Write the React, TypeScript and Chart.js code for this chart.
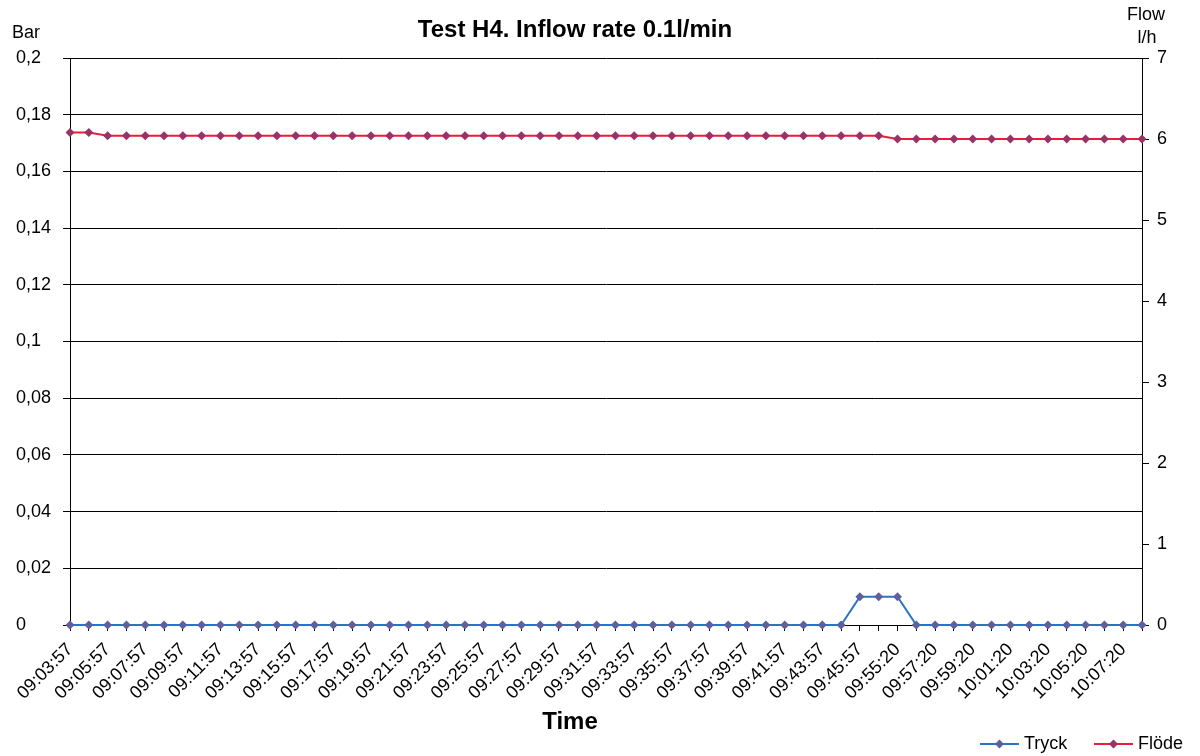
import React, { useEffect, useRef } from "react";
import { Chart, registerables } from "chart.js";

Chart.register(...registerables);

const TIMES: string[] = [
  "09:03:57", "09:04:57", "09:05:57", "09:06:57", "09:07:57", "09:08:57", "09:09:57", "09:10:57",
  "09:11:57", "09:12:57", "09:13:57", "09:14:57", "09:15:57", "09:16:57", "09:17:57", "09:18:57",
  "09:19:57", "09:20:57", "09:21:57", "09:22:57", "09:23:57", "09:24:57", "09:25:57", "09:26:57",
  "09:27:57", "09:28:57", "09:29:57", "09:30:57", "09:31:57", "09:32:57", "09:33:57", "09:34:57",
  "09:35:57", "09:36:57", "09:37:57", "09:38:57", "09:39:57", "09:40:57", "09:41:57", "09:42:57",
  "09:43:57", "09:44:57", "09:45:57", "09:46:57", "09:55:20", "09:56:20", "09:57:20", "09:58:20",
  "09:59:20", "10:00:20", "10:01:20", "10:02:20", "10:03:20", "10:04:20", "10:05:20", "10:06:20",
  "10:07:20", "10:08:20",
];

// Tryck (Bar, left axis)
const TRYCK: number[] = [
  0, 0, 0, 0, 0, 0, 0, 0, 0, 0, 0, 0, 0, 0, 0, 0,
  0, 0, 0, 0, 0, 0, 0, 0, 0, 0, 0, 0, 0, 0, 0, 0,
  0, 0, 0, 0, 0, 0, 0, 0, 0, 0, 0.01, 0.01, 0.01, 0, 0, 0,
  0, 0, 0, 0, 0, 0, 0, 0, 0, 0,
];

// Flöde (l/h, right axis)
const FLODE: number[] = [
  6.08, 6.08, 6.04, 6.04, 6.04, 6.04, 6.04, 6.04, 6.04, 6.04, 6.04, 6.04, 6.04, 6.04, 6.04, 6.04,
  6.04, 6.04, 6.04, 6.04, 6.04, 6.04, 6.04, 6.04, 6.04, 6.04, 6.04, 6.04, 6.04, 6.04, 6.04, 6.04,
  6.04, 6.04, 6.04, 6.04, 6.04, 6.04, 6.04, 6.04, 6.04, 6.04, 6.04, 6.04, 6.0, 6.0, 6.0, 6.0,
  6.0, 6.0, 6.0, 6.0, 6.0, 6.0, 6.0, 6.0, 6.0, 6.0,
];

const SERIES_NAMES = ["Tryck", "Flöde"];
const TITLE = "Test H4. Inflow rate 0.1l/min";
const LEFT_UNIT = "Bar";
const RIGHT_UNIT = ["Flow", "l/h"];
const X_TITLE = "Time";

const FONT = "'Liberation Sans', Arial, sans-serif";
const TRYCK_LINE = "#2a74c4";
const TRYCK_MARK = "#5d5f9e";
const FLODE_LINE = "#ec1c36";
const FLODE_MARK = "#993366";

export default function App() {
  const ref = useRef<HTMLCanvasElement | null>(null);

  useEffect(() => {
    if (!ref.current) return;

    const textPlugin = {
      id: "texts",
      afterDraw(chart: any) {
        const ctx = chart.ctx as CanvasRenderingContext2D;
        ctx.save();
        ctx.fillStyle = "#000";
        ctx.textBaseline = "middle";
        // title
        ctx.font = `bold 24px ${FONT}`;
        ctx.textAlign = "center";
        ctx.fillText(TITLE, 575, 30);
        // axis unit labels
        ctx.font = `18px ${FONT}`;
        ctx.textAlign = "left";
        ctx.fillText(LEFT_UNIT, 12, 33);
        ctx.textAlign = "center";
        ctx.fillText(RIGHT_UNIT[0], 1146, 15);
        ctx.fillText(RIGHT_UNIT[1], 1147, 38);
        // x title
        ctx.font = `bold 24px ${FONT}`;
        ctx.fillText(X_TITLE, 570, 722);
        // legend
        const items = [
          { x: 980, line: TRYCK_LINE, mark: TRYCK_MARK, name: SERIES_NAMES[0] },
          { x: 1094, line: FLODE_LINE, mark: FLODE_MARK, name: SERIES_NAMES[1] },
        ];
        const ly = 744;
        for (const it of items) {
          ctx.strokeStyle = it.line;
          ctx.lineWidth = 2;
          ctx.beginPath();
          ctx.moveTo(it.x, ly);
          ctx.lineTo(it.x + 39, ly);
          ctx.stroke();
          ctx.fillStyle = it.mark;
          const cx = it.x + 19.5;
          ctx.beginPath();
          ctx.moveTo(cx - 4.5, ly);
          ctx.lineTo(cx, ly - 4.5);
          ctx.lineTo(cx + 4.5, ly);
          ctx.lineTo(cx, ly + 4.5);
          ctx.closePath();
          ctx.fill();
          ctx.fillStyle = "#000";
          ctx.font = `18px ${FONT}`;
          ctx.textAlign = "left";
          ctx.fillText(it.name, it.x + 44, ly);
        }
        ctx.restore();
      },
    };

    const tickFont = { family: FONT, size: 18 };

    const chart = new Chart(ref.current, {
      type: "line",
      data: {
        labels: TIMES,
        datasets: [
          {
            label: SERIES_NAMES[0],
            data: TRYCK,
            yAxisID: "y",
            borderColor: TRYCK_LINE,
            backgroundColor: TRYCK_MARK,
            pointBackgroundColor: TRYCK_MARK,
            pointBorderColor: TRYCK_MARK,
            pointStyle: "rectRot",
            pointRadius: 4.5,
            pointBorderWidth: 0,
            borderWidth: 2,
            tension: 0,
            clip: false,
          } as any,
          {
            label: SERIES_NAMES[1],
            data: FLODE,
            yAxisID: "y1",
            borderColor: FLODE_LINE,
            backgroundColor: FLODE_MARK,
            pointBackgroundColor: FLODE_MARK,
            pointBorderColor: FLODE_MARK,
            pointStyle: "rectRot",
            pointRadius: 4.5,
            pointBorderWidth: 0,
            borderWidth: 2,
            tension: 0,
            clip: false,
          } as any,
        ],
      },
      options: {
        responsive: false,
        animation: false,
        events: [],
        layout: { padding: { top: 58, left: 16, right: 0, bottom: 0 } },
        plugins: {
          legend: { display: false },
          title: { display: false },
          tooltip: { enabled: false },
        },
        scales: {
          x: {
            type: "category",
            offset: false,
            grid: { drawOnChartArea: false, tickLength: 6, color: "#000" },
            border: { color: "#000", width: 1 },
            ticks: {
              autoSkip: false,
              maxRotation: 45,
              minRotation: 45,
              padding: 8,
              color: "#000",
              font: tickFont,
              callback: (_v: any, i: number) => (i % 2 === 0 ? TIMES[i] : ""),
            },
            afterFit: (s: any) => {
              s.height = 131;
            },
          },
          y: {
            position: "left",
            min: 0,
            max: 0.2,
            grid: { color: "#000", tickLength: 7 },
            border: { color: "#000", width: 1 },
            ticks: {
              stepSize: 0.02,
              padding: 11,
              crossAlign: "far",
              color: "#000",
              font: tickFont,
              callback: (v: any) => String(Number(Number(v).toFixed(2))).replace(".", ","),
            },
            afterFit: (s: any) => {
              s.width = 54;
            },
          },
          y1: {
            position: "right",
            min: 0,
            max: 7,
            grid: { drawOnChartArea: false, tickLength: 7, color: "#000" },
            border: { color: "#000", width: 1 },
            ticks: {
              stepSize: 1,
              padding: 8,
              color: "#000",
              font: tickFont,
            },
            afterFit: (s: any) => {
              s.width = 58;
            },
          },
        },
      } as any,
      plugins: [textPlugin],
    });

    return () => chart.destroy();
  }, []);

  return (
    <div style={{ position: "absolute", left: 0, top: 0, width: 1200, height: 756, background: "#fff" }}>
      <canvas ref={ref} width={1200} height={756} style={{ display: "block", width: 1200, height: 756 }} />
    </div>
  );
}
